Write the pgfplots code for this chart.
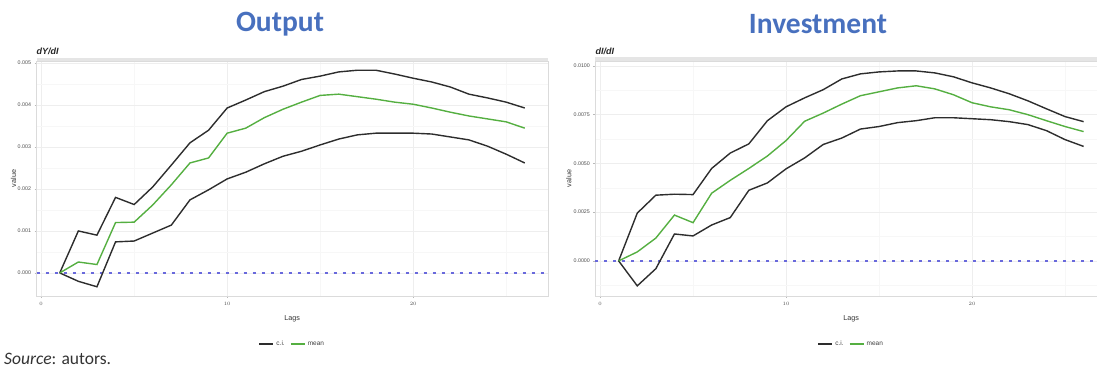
\documentclass[border=0pt]{standalone}
\usepackage{pgfplots}
\pgfplotsset{compat=1.18}
\usepackage{pgfplotstable}
\usepackage{fontspec}
\setmainfont{Carlito}
\setsansfont{Liberation Sans}
\definecolor{titleblue}{RGB}{72,112,190}
\definecolor{cigray}{RGB}{45,45,45}
\definecolor{meangreen}{RGB}{85,175,65}
\definecolor{zeroblue}{RGB}{105,105,220}

\pgfplotstableread{
lag lo mean hi
1 0 0 0
2 -0.00020 0.00026 0.00100
3 -0.00033 0.00020 0.00090
4 0.00074 0.00120 0.00180
5 0.00076 0.00121 0.00163
6 0.00095 0.00162 0.00205
7 0.00114 0.00210 0.00257
8 0.00174 0.00262 0.00310
9 0.00198 0.00274 0.00340
10 0.00224 0.00333 0.00393
11 0.00240 0.00345 0.00412
12 0.00260 0.00370 0.00432
13 0.00278 0.00390 0.00445
14 0.00290 0.00407 0.00461
15 0.00305 0.00423 0.00469
16 0.00319 0.00426 0.00479
17 0.00329 0.00420 0.00483
18 0.00333 0.00414 0.00483
19 0.00333 0.00407 0.00474
20 0.00333 0.00402 0.00464
21 0.00331 0.00393 0.00455
22 0.00324 0.00383 0.00443
23 0.00317 0.00374 0.00426
24 0.00302 0.00367 0.00417
25 0.00283 0.00360 0.00407
26 0.00262 0.00345 0.00393
}\outtab

\pgfplotstableread{
lag lo mean hi
1 0 0 0
2 -0.00128 0.00046 0.00245
3 -0.00040 0.00117 0.00337
4 0.00138 0.00235 0.00342
5 0.00128 0.00196 0.00340
6 0.00184 0.00347 0.00474
7 0.00222 0.00413 0.00553
8 0.00362 0.00474 0.00600
9 0.00400 0.00538 0.00719
10 0.00472 0.00617 0.00790
11 0.00528 0.00716 0.00836
12 0.00597 0.00758 0.00878
13 0.00630 0.00804 0.00933
14 0.00676 0.00847 0.00959
15 0.00689 0.00867 0.00969
16 0.00709 0.00887 0.00974
17 0.00719 0.00898 0.00974
18 0.00734 0.00882 0.00964
19 0.00734 0.00852 0.00944
20 0.00729 0.00811 0.00913
21 0.00724 0.00790 0.00887
22 0.00714 0.00775 0.00857
23 0.00699 0.00750 0.00821
24 0.00668 0.00719 0.00780
25 0.00622 0.00689 0.00740
26 0.00587 0.00663 0.00714
}\invtab

\pgfplotsset{
  irf/.style={
    scale only axis,
    height=235pt,
    xmin=-0.25,
    xtick={0,10,20}, minor xtick={5,15,25},
    grid=both,
    major grid style={gray!13, line width=0.5pt},
    minor grid style={gray!6, line width=0.4pt},
    axis line style={draw=none},
    tick style={gray!55, line width=0.4pt},
    major tick length=2pt, minor tick length=0pt,
    tick align=outside, xtick pos=bottom, ytick pos=left,
    scaled y ticks=false,
    tick label style={font=\sffamily\fontsize{5.3}{6}\selectfont, text=gray!60!black},
    xticklabel style={yshift=-1pt},
    xlabel=Lags, ylabel=value,
    label style={font=\sffamily\fontsize{7.2}{8}\selectfont, text=black!80},
    legend columns=2,
    legend style={draw=none, fill=none, font=\sffamily\fontsize{6.5}{7}\selectfont,
      anchor=center, text=black!75,
      /tikz/every even column/.append style={column sep=3pt}},
    legend image code/.code={\draw[##1, line width=2pt] (0pt,0pt) -- (14pt,0pt);},
    clip=false,
  }
}

\begin{document}
\begin{tikzpicture}[x=1pt,y=1pt]
\useasboundingbox (0,0) rectangle (1097,367);

\node[font=\fontsize{29.5}{32}\selectfont\bfseries, text=titleblue] at (280,343) {Output};
\node[font=\fontsize{29.5}{32}\selectfont\bfseries, text=titleblue] at (818,343) {Investment};
\node[anchor=base west, inner sep=0pt, font=\fontsize{17.5}{20}\selectfont, text=black!80] at (4,3) {\textit{Source}: autors.};

% Output panel
\begin{axis}[irf, at={(36.5pt,71pt)}, anchor=south west,
  width=511.5pt, xmax=27.25,
  ymin=-0.00055, ymax=0.00505,
  ytick={0,0.001,0.002,0.003,0.004,0.005},
  minor ytick={0.0005,0.0015,0.0025,0.0035,0.0045},
  yticklabels={0.000,0.001,0.002,0.003,0.004,0.005},
  ylabel style={at={(axis description cs:-0.045,0.5)}, anchor=center},
  xlabel style={at={(axis description cs:0.5,-0.095)}, anchor=center},
  legend style={at={(0.5,-0.205)}},
]
\draw[gray!28, line width=0.6pt] (rel axis cs:0,0) rectangle (rel axis cs:1,1);
\addplot[zeroblue, line width=2.2pt, dash pattern=on 3pt off 6pt, forget plot] coordinates {(-0.25,0) (27.25,0)};
\addplot[cigray, line width=1.4pt] table[x=lag, y=hi] {\outtab};
\addlegendentry{c.i.}
\addplot[cigray, line width=1.4pt, forget plot] table[x=lag, y=lo] {\outtab};
\addplot[meangreen, line width=1.4pt] table[x=lag, y=mean] {\outtab};
\addlegendentry{mean}
\fill[gray!20] (rel axis cs:0,1) rectangle ([yshift=3.5pt]rel axis cs:1,1);
\node[anchor=south west, inner sep=0pt, font=\sffamily\bfseries\itshape\fontsize{9}{10}\selectfont, text=black!85] at ([xshift=0pt,yshift=6pt]rel axis cs:0,1) {dY/dI};
\end{axis}

% Investment panel
\begin{axis}[irf, at={(595.4pt,71pt)}, anchor=south west,
  width=501.4pt, xmax=26.71,
  ymin=-0.0018, ymax=0.01025,
  ytick={0,0.0025,0.005,0.0075,0.01},
  minor ytick={-0.00125,0.00125,0.00375,0.00625,0.00875},
  yticklabels={0.0000,0.0025,0.0050,0.0075,0.0100},
  ylabel style={at={(axis description cs:-0.053,0.5)}, anchor=center},
  xlabel style={at={(axis description cs:0.51,-0.095)}, anchor=center},
  legend style={at={(0.51,-0.205)}},
]
\draw[gray!28, line width=0.6pt] (rel axis cs:1,0) -- (rel axis cs:0,0) -- (rel axis cs:0,1) -- (rel axis cs:1,1);
\addplot[zeroblue, line width=2.2pt, dash pattern=on 3pt off 6pt, forget plot] coordinates {(-0.25,0) (26.71,0)};
\addplot[cigray, line width=1.4pt] table[x=lag, y=hi] {\invtab};
\addlegendentry{c.i.}
\addplot[cigray, line width=1.4pt, forget plot] table[x=lag, y=lo] {\invtab};
\addplot[meangreen, line width=1.4pt] table[x=lag, y=mean] {\invtab};
\addlegendentry{mean}
\fill[gray!20] (rel axis cs:0,1) rectangle ([yshift=3.5pt]rel axis cs:1,1);
\node[anchor=south west, inner sep=0pt, font=\sffamily\bfseries\itshape\fontsize{9}{10}\selectfont, text=black!85] at ([xshift=0pt,yshift=6pt]rel axis cs:0,1) {dI/dI};
\end{axis}
\end{tikzpicture}
\end{document}
